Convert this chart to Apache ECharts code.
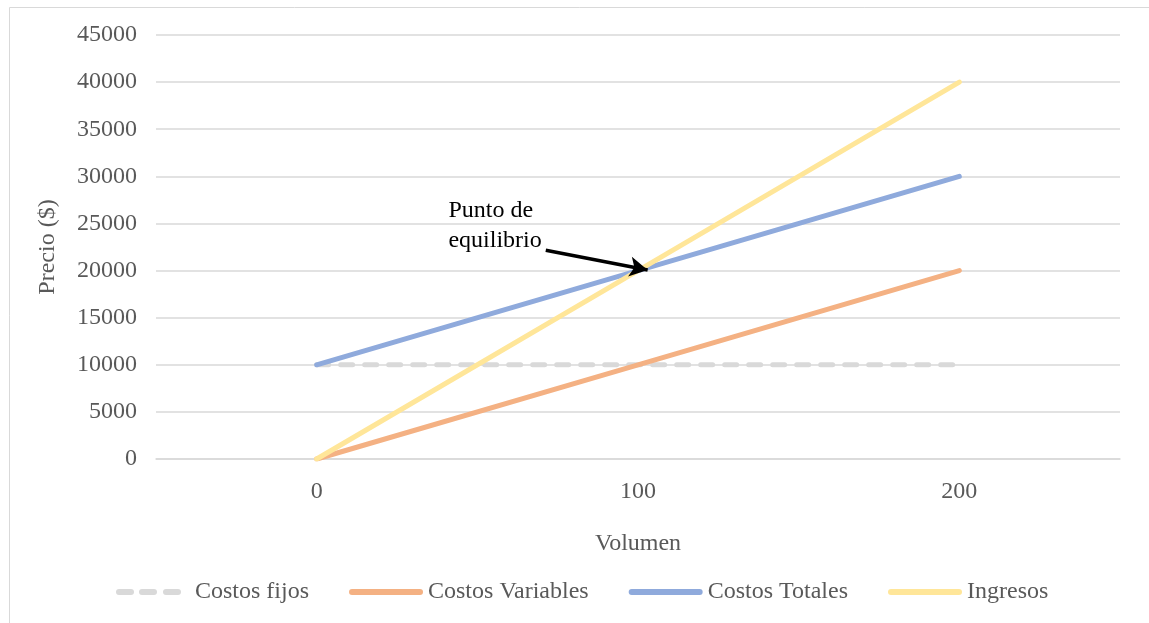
<!DOCTYPE html>
<html>
<head>
<meta charset="utf-8">
<script src="https://cdn.jsdelivr.net/npm/echarts@6/dist/echarts.min.js"></script>
<style>
  html, body { margin: 0; padding: 0; background: #fff; }
  #main { width: 1149px; height: 623px; }
</style>
</head>
<body>
<div id="main"></div>
<script>
var volumen = ['0', '100', '200'];
var costosFijos = [10000, 10000, 10000];
var costosVariables = [0, 10000, 20000];
var costosTotales = [10000, 20000, 30000];
var ingresos = [0, 20000, 40000];

// punto de equilibrio: anotacion (x en indice de categoria, y en $)
var notaTexto = 'Punto de\nequilibrio';
var notaPos = [0.41, 24750];
var flechaInicio = [0.713, 22150];
var flechaFin = [1.03, 20050];

var myChart = echarts.init(document.getElementById('main'));
var fuente = '"Liberation Serif", "Times New Roman", serif';

// iconos de la leyenda: linea solida redondeada y linea discontinua
var iconoSolido = 'path://M3,0 h68 a3,3 0 0 1 0,6 h-68 a3,3 0 0 1 0,-6 z';
// la discontinua ocupa 65 de 74 px (el ultimo M solo amplia el recuadro)
var iconoDiscontinuo = 'path://M3,0 h12 a3,3 0 0 1 0,6 h-12 a3,3 0 0 1 0,-6 z ' +
  'M26,0 h12 a3,3 0 0 1 0,6 h-12 a3,3 0 0 1 0,-6 z ' +
  'M50,0 h12 a3,3 0 0 1 0,6 h-12 a3,3 0 0 1 0,-6 z M74,3';

var option = {
  backgroundColor: '#fff',
  animation: false,
  textStyle: { fontFamily: fuente },
  graphic: [{
    type: 'rect',
    left: 7,
    top: 5,
    silent: true,
    shape: { width: 1141, height: 640 },
    style: { fill: 'none', stroke: '#d9d9d9', lineWidth: 1 }
  }],
  grid: { left: 156, right: 29, top: 35, bottom: 164 },
  legend: {
    bottom: 14,
    left: 111,
    itemWidth: 74,
    itemHeight: 6,
    itemGap: 40,
    textStyle: { fontFamily: fuente, fontSize: 24, color: '#595959' },
    data: [
      { name: 'Costos fijos', icon: iconoDiscontinuo },
      { name: 'Costos Variables', icon: iconoSolido },
      { name: 'Costos Totales', icon: iconoSolido },
      { name: 'Ingresos', icon: iconoSolido }
    ]
  },
  xAxis: [{
    type: 'category',
    data: volumen,
    boundaryGap: true,
    name: 'Volumen',
    nameLocation: 'middle',
    nameGap: 73,
    nameTextStyle: { fontFamily: fuente, fontSize: 24, color: '#595959' },
    axisLine: { lineStyle: { color: '#d9d9d9', width: 1.5 } },
    axisTick: { show: false },
    axisLabel: { margin: 21, fontFamily: fuente, fontSize: 24, color: '#595959' }
  }, {
    type: 'value',
    min: -0.5,
    max: 2.5,
    show: false
  }],
  yAxis: {
    type: 'value',
    min: 0,
    max: 45000,
    interval: 5000,
    name: 'Precio ($)',
    nameLocation: 'middle',
    nameGap: 96,
    nameTextStyle: { fontFamily: fuente, fontSize: 24, color: '#595959' },
    axisLine: { show: false },
    axisTick: { show: false },
    axisLabel: {
      margin: 19,
      fontFamily: fuente,
      fontSize: 24,
      color: '#595959',
      formatter: function (v) { return String(v); }
    },
    splitLine: { lineStyle: { color: '#d9d9d9', width: 1.5 } }
  },
  series: [
    {
      name: 'Costos fijos',
      type: 'line',
      data: costosFijos,
      showSymbol: false,
      symbol: 'none',
      color: '#d9d9d9',
      lineStyle: { width: 5, type: [12, 12], cap: 'round', color: '#d9d9d9' }
    },
    {
      name: 'Costos Variables',
      type: 'line',
      data: costosVariables,
      showSymbol: false,
      symbol: 'none',
      color: '#f4b183',
      lineStyle: { width: 5, cap: 'round', color: '#f4b183' }
    },
    {
      name: 'Costos Totales',
      type: 'line',
      data: costosTotales,
      showSymbol: false,
      symbol: 'none',
      color: '#8faadc',
      lineStyle: { width: 5, cap: 'round', color: '#8faadc' }
    },
    {
      name: 'Ingresos',
      type: 'line',
      data: ingresos,
      showSymbol: false,
      symbol: 'none',
      color: '#ffe699',
      lineStyle: { width: 5, cap: 'round', color: '#ffe699' }
    },
    {
      // serie auxiliar solo para la anotacion
      name: 'nota',
      type: 'line',
      xAxisIndex: 1,
      data: [],
      silent: true,
      z: 10,
      markPoint: {
        symbol: 'circle',
        symbolSize: 0,
        label: {
          show: true,
          position: 'right',
          distance: 0,
          formatter: notaTexto,
          fontFamily: fuente,
          fontSize: 24,
          lineHeight: 30,
          color: '#000',
          align: 'left'
        },
        data: [{ coord: notaPos }]
      },
      markLine: {
        silent: true,
        symbol: ['none', 'arrow'],
        symbolSize: [15, 18],
        label: { show: false },
        lineStyle: { color: '#000', width: 3.5, type: 'solid' },
        data: [[{ coord: flechaInicio }, { coord: flechaFin }]]
      }
    }
  ]
};

option && myChart.setOption(option);
</script>
</body>
</html>
